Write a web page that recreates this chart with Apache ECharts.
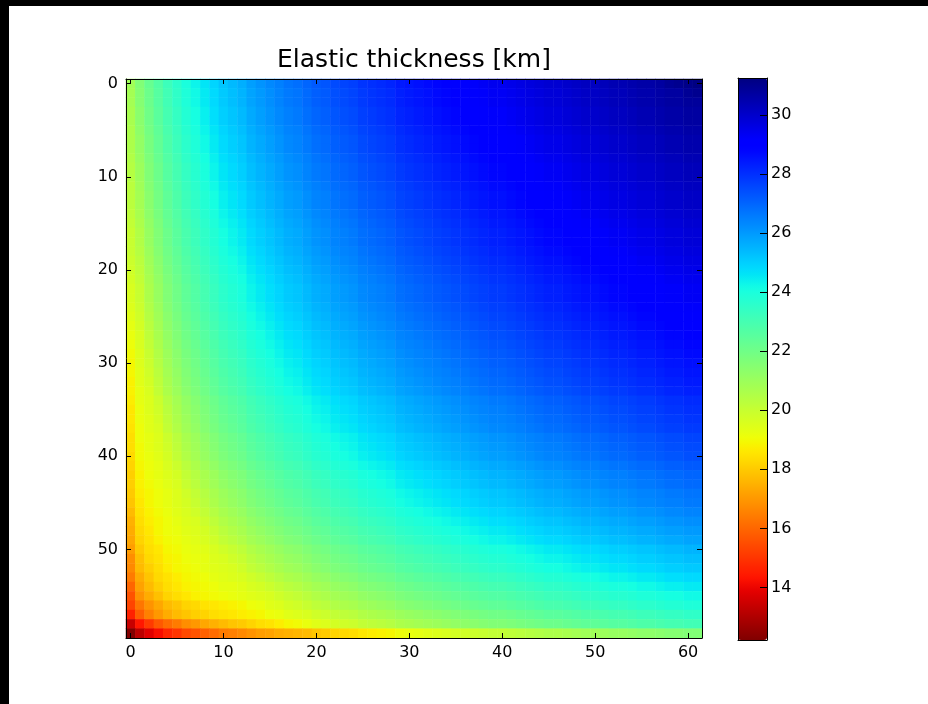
<!DOCTYPE html>
<html>
<head>
<meta charset="utf-8">
<script src="https://cdn.jsdelivr.net/npm/echarts@6/dist/echarts.min.js"></script>
<style>
html, body { margin: 0; padding: 0; background: #ffffff; }
#chart { width: 928px; height: 704px; }
</style>
</head>
<body>
<div id="chart"></div>
<script>
const titleText = 'Elastic thickness [km]';
const xCategories = [0,1,2,3,4,5,6,7,8,9,10,11,12,13,14,15,16,17,18,19,20,21,22,23,24,25,26,27,28,29,30,31,32,33,34,35,36,37,38,39,40,41,42,43,44,45,46,47,48,49,50,51,52,53,54,55,56,57,58,59,60,61];
const yCategories = [0,1,2,3,4,5,6,7,8,9,10,11,12,13,14,15,16,17,18,19,20,21,22,23,24,25,26,27,28,29,30,31,32,33,34,35,36,37,38,39,40,41,42,43,44,45,46,47,48,49,50,51,52,53,54,55,56,57,58,59];
const xTickLabels = [0, 10, 20, 30, 40, 50, 60];
const yTickLabels = [0, 10, 20, 30, 40, 50];
const colorbarTicks = [14, 16, 18, 20, 22, 24, 26, 28, 30];
const colorbarMin = 12.22;
const colorbarMax = 31.25;

// Elastic thickness [km]; one row per y index (0 at top), one value per x index.
const teRows = [
[20.9,21.6,22.2,22.7,23.2,23.6,24.0,24.3,24.6,24.9,25.2,25.4,25.6,25.9,26.1,26.3,26.5,26.7,26.8,27.0,27.2,27.3,27.5,27.6,27.7,27.9,28.0,28.1,28.2,28.4,28.5,28.6,28.7,28.8,28.9,29.0,29.1,29.2,29.3,29.4,29.4,29.5,29.6,29.7,29.8,29.9,29.9,30.0,30.1,30.2,30.2,30.3,30.4,30.4,30.5,30.6,30.6,30.7,30.9,31.0,31.1,31.2],
[20.8,21.5,22.1,22.6,23.1,23.5,23.9,24.2,24.5,24.8,25.1,25.3,25.5,25.8,26.0,26.2,26.4,26.6,26.7,26.9,27.1,27.2,27.4,27.5,27.6,27.8,27.9,28.0,28.1,28.3,28.4,28.5,28.6,28.7,28.8,28.9,29.0,29.1,29.2,29.3,29.3,29.4,29.5,29.6,29.7,29.8,29.8,29.9,30.0,30.1,30.1,30.2,30.3,30.3,30.4,30.5,30.5,30.6,30.7,30.7,30.9,31.0],
[20.8,21.5,22.1,22.6,23.1,23.5,23.9,24.2,24.5,24.8,25.1,25.3,25.5,25.8,26.0,26.2,26.4,26.6,26.7,26.9,27.1,27.2,27.4,27.5,27.6,27.8,27.9,28.0,28.1,28.3,28.4,28.5,28.6,28.7,28.8,28.9,29.0,29.1,29.2,29.3,29.3,29.4,29.5,29.6,29.7,29.8,29.8,29.9,30.0,30.1,30.1,30.2,30.3,30.3,30.4,30.5,30.5,30.6,30.7,30.7,30.8,30.8],
[20.7,21.4,22.0,22.5,23.0,23.4,23.8,24.1,24.4,24.7,25.0,25.2,25.4,25.7,25.9,26.1,26.3,26.5,26.6,26.8,27.0,27.1,27.3,27.4,27.5,27.7,27.8,27.9,28.0,28.2,28.3,28.4,28.5,28.6,28.7,28.8,28.9,29.0,29.1,29.2,29.2,29.3,29.4,29.5,29.6,29.7,29.7,29.8,29.9,30.0,30.0,30.1,30.2,30.2,30.3,30.4,30.4,30.5,30.6,30.6,30.7,30.7],
[20.7,21.4,22.0,22.5,23.0,23.4,23.8,24.1,24.4,24.7,25.0,25.2,25.4,25.7,25.9,26.1,26.3,26.5,26.6,26.8,27.0,27.1,27.3,27.4,27.5,27.7,27.8,27.9,28.0,28.2,28.3,28.4,28.5,28.6,28.7,28.8,28.9,29.0,29.1,29.2,29.2,29.3,29.4,29.5,29.6,29.7,29.7,29.8,29.9,30.0,30.0,30.1,30.2,30.2,30.3,30.4,30.4,30.5,30.6,30.6,30.7,30.7],
[20.6,21.3,21.9,22.4,22.9,23.3,23.7,24.0,24.3,24.6,24.9,25.1,25.3,25.6,25.8,26.0,26.2,26.4,26.5,26.7,26.9,27.0,27.2,27.3,27.4,27.6,27.7,27.8,27.9,28.1,28.2,28.3,28.4,28.5,28.6,28.7,28.8,28.9,29.0,29.1,29.1,29.2,29.3,29.4,29.5,29.6,29.6,29.7,29.8,29.9,29.9,30.0,30.1,30.1,30.2,30.3,30.3,30.4,30.5,30.5,30.6,30.6],
[20.6,21.2,21.8,22.3,22.8,23.2,23.6,23.9,24.2,24.5,24.8,25.0,25.2,25.5,25.7,25.9,26.1,26.3,26.4,26.6,26.8,26.9,27.1,27.2,27.3,27.5,27.6,27.7,27.8,28.0,28.1,28.2,28.3,28.4,28.5,28.6,28.7,28.8,28.9,29.0,29.0,29.1,29.2,29.3,29.4,29.5,29.5,29.6,29.7,29.8,29.8,29.9,30.0,30.0,30.1,30.2,30.2,30.3,30.4,30.4,30.5,30.5],
[20.6,21.2,21.8,22.3,22.8,23.2,23.6,23.9,24.2,24.5,24.8,25.0,25.2,25.5,25.7,25.9,26.1,26.3,26.4,26.6,26.8,26.9,27.1,27.2,27.3,27.5,27.6,27.7,27.8,28.0,28.1,28.2,28.3,28.4,28.5,28.6,28.7,28.8,28.9,29.0,29.0,29.1,29.2,29.3,29.4,29.5,29.5,29.6,29.7,29.8,29.8,29.9,30.0,30.0,30.1,30.2,30.2,30.3,30.4,30.4,30.5,30.5],
[20.5,21.1,21.7,22.2,22.7,23.1,23.5,23.8,24.1,24.4,24.7,24.9,25.1,25.4,25.6,25.8,26.0,26.2,26.3,26.5,26.7,26.8,27.0,27.1,27.2,27.4,27.5,27.6,27.7,27.9,28.0,28.1,28.2,28.3,28.4,28.5,28.6,28.7,28.8,28.9,28.9,29.0,29.1,29.2,29.3,29.4,29.4,29.5,29.6,29.7,29.7,29.8,29.9,29.9,30.0,30.1,30.1,30.2,30.3,30.3,30.4,30.4],
[20.4,21.0,21.6,22.1,22.6,23.0,23.4,23.7,24.0,24.3,24.6,24.8,25.0,25.3,25.5,25.7,25.9,26.1,26.2,26.4,26.6,26.7,26.9,27.0,27.1,27.3,27.4,27.5,27.6,27.8,27.9,28.0,28.1,28.2,28.3,28.4,28.5,28.6,28.7,28.8,28.8,28.9,29.0,29.1,29.2,29.3,29.3,29.4,29.5,29.6,29.6,29.7,29.8,29.8,29.9,30.0,30.0,30.1,30.2,30.2,30.3,30.3],
[20.4,21.0,21.6,22.1,22.6,23.0,23.4,23.7,24.0,24.3,24.6,24.8,25.0,25.3,25.5,25.7,25.9,26.1,26.2,26.4,26.6,26.7,26.9,27.0,27.1,27.3,27.4,27.5,27.6,27.8,27.9,28.0,28.1,28.2,28.3,28.4,28.5,28.6,28.7,28.8,28.8,28.9,29.0,29.1,29.2,29.3,29.3,29.4,29.5,29.6,29.6,29.7,29.8,29.8,29.9,30.0,30.0,30.1,30.2,30.2,30.3,30.3],
[20.3,20.9,21.5,22.0,22.5,22.9,23.3,23.6,23.9,24.2,24.5,24.7,24.9,25.2,25.4,25.6,25.8,26.0,26.1,26.3,26.5,26.6,26.8,26.9,27.0,27.2,27.3,27.4,27.5,27.7,27.8,27.9,28.0,28.1,28.2,28.3,28.4,28.5,28.6,28.7,28.7,28.8,28.9,29.0,29.1,29.2,29.2,29.3,29.4,29.5,29.5,29.6,29.7,29.7,29.8,29.9,29.9,30.0,30.1,30.1,30.2,30.2],
[20.3,20.8,21.4,21.9,22.4,22.8,23.2,23.5,23.8,24.1,24.4,24.6,24.8,25.1,25.3,25.5,25.7,25.9,26.0,26.2,26.4,26.5,26.7,26.8,26.9,27.1,27.2,27.3,27.4,27.6,27.7,27.8,27.9,28.0,28.1,28.2,28.3,28.4,28.5,28.6,28.6,28.7,28.8,28.9,29.0,29.1,29.1,29.2,29.3,29.4,29.4,29.5,29.6,29.6,29.7,29.8,29.8,29.9,30.0,30.0,30.1,30.1],
[20.3,20.8,21.4,21.9,22.4,22.8,23.2,23.5,23.8,24.1,24.4,24.6,24.8,25.1,25.3,25.5,25.7,25.9,26.0,26.2,26.4,26.5,26.7,26.8,26.9,27.1,27.2,27.3,27.4,27.6,27.7,27.8,27.9,28.0,28.1,28.2,28.3,28.4,28.5,28.6,28.6,28.7,28.8,28.9,29.0,29.1,29.1,29.2,29.3,29.4,29.4,29.5,29.6,29.6,29.7,29.8,29.8,29.9,30.0,30.0,30.1,30.1],
[20.2,20.7,21.3,21.8,22.3,22.7,23.1,23.4,23.7,24.0,24.3,24.5,24.7,25.0,25.2,25.4,25.6,25.8,25.9,26.1,26.3,26.4,26.6,26.7,26.8,27.0,27.1,27.2,27.3,27.5,27.6,27.7,27.8,27.9,28.0,28.1,28.2,28.3,28.4,28.5,28.5,28.6,28.7,28.8,28.9,29.0,29.0,29.1,29.2,29.3,29.3,29.4,29.5,29.5,29.6,29.7,29.7,29.8,29.9,29.9,30.0,30.0],
[20.1,20.6,21.2,21.7,22.2,22.6,23.0,23.3,23.6,23.9,24.2,24.4,24.6,24.9,25.1,25.3,25.5,25.7,25.8,26.0,26.2,26.3,26.5,26.6,26.7,26.9,27.0,27.1,27.2,27.4,27.5,27.6,27.7,27.8,27.9,28.0,28.1,28.2,28.3,28.4,28.4,28.5,28.6,28.7,28.8,28.9,28.9,29.0,29.1,29.2,29.2,29.3,29.4,29.4,29.5,29.6,29.6,29.7,29.8,29.8,29.9,29.9],
[20.0,20.5,21.1,21.6,22.1,22.5,22.9,23.2,23.5,23.8,24.1,24.3,24.5,24.8,25.0,25.2,25.4,25.6,25.7,25.9,26.1,26.2,26.4,26.5,26.6,26.8,26.9,27.0,27.1,27.3,27.4,27.5,27.6,27.7,27.8,27.9,28.0,28.1,28.2,28.3,28.3,28.4,28.5,28.6,28.7,28.8,28.8,28.9,29.0,29.1,29.1,29.2,29.3,29.3,29.4,29.5,29.5,29.6,29.7,29.7,29.8,29.8],
[20.0,20.5,21.1,21.6,22.1,22.5,22.9,23.2,23.5,23.8,24.1,24.3,24.5,24.8,25.0,25.2,25.4,25.6,25.7,25.9,26.1,26.2,26.4,26.5,26.6,26.8,26.9,27.0,27.1,27.3,27.4,27.5,27.6,27.7,27.8,27.9,28.0,28.1,28.2,28.3,28.3,28.4,28.5,28.6,28.7,28.8,28.8,28.9,29.0,29.1,29.1,29.2,29.3,29.3,29.4,29.5,29.5,29.6,29.7,29.7,29.8,29.8],
[20.0,20.4,21.0,21.5,22.0,22.4,22.8,23.1,23.4,23.7,24.0,24.2,24.4,24.7,24.9,25.1,25.3,25.5,25.6,25.8,26.0,26.1,26.3,26.4,26.5,26.7,26.8,26.9,27.0,27.2,27.3,27.4,27.5,27.6,27.7,27.8,27.9,28.0,28.1,28.2,28.2,28.3,28.4,28.5,28.6,28.7,28.7,28.8,28.9,29.0,29.0,29.1,29.2,29.2,29.3,29.4,29.4,29.5,29.6,29.6,29.7,29.7],
[19.9,20.3,20.9,21.4,21.9,22.3,22.7,23.0,23.3,23.6,23.9,24.1,24.3,24.6,24.8,25.0,25.2,25.4,25.5,25.7,25.9,26.0,26.2,26.3,26.4,26.6,26.7,26.8,26.9,27.1,27.2,27.3,27.4,27.5,27.6,27.7,27.8,27.9,28.0,28.1,28.1,28.2,28.3,28.4,28.5,28.6,28.6,28.7,28.8,28.9,28.9,29.0,29.1,29.1,29.2,29.3,29.3,29.4,29.5,29.5,29.6,29.6],
[19.8,20.2,20.8,21.3,21.8,22.2,22.6,22.9,23.2,23.5,23.8,24.0,24.2,24.5,24.7,24.9,25.1,25.3,25.4,25.6,25.8,25.9,26.1,26.2,26.3,26.5,26.6,26.7,26.8,27.0,27.1,27.2,27.3,27.4,27.5,27.6,27.7,27.8,27.9,28.0,28.0,28.1,28.2,28.3,28.4,28.5,28.5,28.6,28.7,28.8,28.8,28.9,29.0,29.0,29.1,29.2,29.2,29.3,29.4,29.4,29.5,29.5],
[19.7,20.1,20.7,21.2,21.7,22.1,22.5,22.8,23.1,23.4,23.7,23.9,24.1,24.4,24.6,24.8,25.0,25.2,25.3,25.5,25.7,25.8,26.0,26.1,26.2,26.4,26.5,26.6,26.7,26.9,27.0,27.1,27.2,27.3,27.4,27.5,27.6,27.7,27.8,27.9,27.9,28.0,28.1,28.2,28.3,28.4,28.4,28.5,28.6,28.7,28.7,28.8,28.9,28.9,29.0,29.1,29.1,29.2,29.3,29.3,29.4,29.4],
[19.6,20.0,20.6,21.1,21.6,22.0,22.4,22.7,23.0,23.3,23.6,23.8,24.0,24.3,24.5,24.7,24.9,25.1,25.2,25.4,25.6,25.7,25.9,26.0,26.1,26.3,26.4,26.5,26.6,26.8,26.9,27.0,27.1,27.2,27.3,27.4,27.5,27.6,27.7,27.8,27.8,27.9,28.0,28.1,28.2,28.3,28.3,28.4,28.5,28.6,28.6,28.7,28.8,28.8,28.9,29.0,29.0,29.1,29.2,29.2,29.3,29.3],
[19.6,20.0,20.6,21.1,21.6,22.0,22.4,22.7,23.0,23.3,23.6,23.8,24.0,24.3,24.5,24.7,24.9,25.1,25.2,25.4,25.6,25.7,25.9,26.0,26.1,26.3,26.4,26.5,26.6,26.8,26.9,27.0,27.1,27.2,27.3,27.4,27.5,27.6,27.7,27.8,27.8,27.9,28.0,28.1,28.2,28.3,28.3,28.4,28.5,28.6,28.6,28.7,28.8,28.8,28.9,29.0,29.0,29.1,29.2,29.2,29.3,29.3],
[19.5,19.9,20.5,21.0,21.5,21.9,22.3,22.6,22.9,23.2,23.5,23.7,23.9,24.2,24.4,24.6,24.8,25.0,25.1,25.3,25.5,25.6,25.8,25.9,26.0,26.2,26.3,26.4,26.5,26.7,26.8,26.9,27.0,27.1,27.2,27.3,27.4,27.5,27.6,27.7,27.7,27.8,27.9,28.0,28.1,28.2,28.2,28.3,28.4,28.5,28.5,28.6,28.7,28.7,28.8,28.9,28.9,29.0,29.1,29.1,29.2,29.2],
[19.4,19.8,20.4,20.9,21.4,21.8,22.2,22.5,22.8,23.1,23.4,23.6,23.8,24.1,24.3,24.5,24.7,24.9,25.0,25.2,25.4,25.5,25.7,25.8,25.9,26.1,26.2,26.3,26.4,26.6,26.7,26.8,26.9,27.0,27.1,27.2,27.3,27.4,27.5,27.6,27.6,27.7,27.8,27.9,28.0,28.1,28.1,28.2,28.3,28.4,28.4,28.5,28.6,28.6,28.7,28.8,28.8,28.9,29.0,29.0,29.1,29.1],
[19.3,19.7,20.3,20.8,21.3,21.7,22.1,22.4,22.7,23.0,23.3,23.5,23.7,24.0,24.2,24.4,24.6,24.8,24.9,25.1,25.3,25.4,25.6,25.7,25.8,26.0,26.1,26.2,26.3,26.5,26.6,26.7,26.8,26.9,27.0,27.1,27.2,27.3,27.4,27.5,27.5,27.6,27.7,27.8,27.9,28.0,28.0,28.1,28.2,28.3,28.3,28.4,28.5,28.5,28.6,28.7,28.7,28.8,28.9,28.9,29.0,29.0],
[19.2,19.6,20.2,20.7,21.2,21.6,22.0,22.3,22.6,22.9,23.2,23.4,23.6,23.9,24.1,24.3,24.5,24.7,24.8,25.0,25.2,25.3,25.5,25.6,25.7,25.9,26.0,26.1,26.2,26.4,26.5,26.6,26.7,26.8,26.9,27.0,27.1,27.2,27.3,27.4,27.4,27.5,27.6,27.7,27.8,27.9,27.9,28.0,28.1,28.2,28.2,28.3,28.4,28.4,28.5,28.6,28.6,28.7,28.8,28.8,28.9,28.9],
[19.1,19.6,20.1,20.6,21.1,21.5,21.9,22.2,22.5,22.8,23.1,23.3,23.5,23.8,24.0,24.2,24.4,24.6,24.7,24.9,25.1,25.2,25.4,25.5,25.6,25.8,25.9,26.0,26.1,26.3,26.4,26.5,26.6,26.7,26.8,26.9,27.0,27.1,27.2,27.3,27.3,27.4,27.5,27.6,27.7,27.8,27.8,27.9,28.0,28.1,28.1,28.2,28.3,28.3,28.4,28.5,28.5,28.6,28.7,28.7,28.8,28.8],
[19.0,19.5,20.0,20.5,21.0,21.4,21.8,22.1,22.4,22.7,23.0,23.2,23.4,23.7,23.9,24.1,24.3,24.5,24.6,24.8,25.0,25.1,25.3,25.4,25.5,25.7,25.8,25.9,26.0,26.2,26.3,26.4,26.5,26.6,26.7,26.8,26.9,27.0,27.1,27.2,27.2,27.3,27.4,27.5,27.6,27.7,27.7,27.8,27.9,28.0,28.0,28.1,28.2,28.2,28.3,28.4,28.4,28.5,28.6,28.6,28.7,28.7],
[18.9,19.5,19.9,20.4,20.9,21.3,21.7,22.0,22.3,22.6,22.9,23.1,23.3,23.6,23.8,24.0,24.2,24.4,24.5,24.7,24.9,25.0,25.2,25.3,25.4,25.6,25.7,25.8,25.9,26.1,26.2,26.3,26.4,26.5,26.6,26.7,26.8,26.9,27.0,27.1,27.1,27.2,27.3,27.4,27.5,27.6,27.6,27.7,27.8,27.9,27.9,28.0,28.1,28.1,28.2,28.3,28.3,28.4,28.5,28.5,28.6,28.6],
[18.9,19.4,19.8,20.3,20.8,21.2,21.6,21.9,22.2,22.5,22.8,23.0,23.2,23.5,23.7,23.9,24.1,24.3,24.4,24.6,24.8,24.9,25.1,25.2,25.3,25.5,25.6,25.7,25.8,26.0,26.1,26.2,26.3,26.4,26.5,26.6,26.7,26.8,26.9,27.0,27.0,27.1,27.2,27.3,27.4,27.5,27.5,27.6,27.7,27.8,27.8,27.9,28.0,28.0,28.1,28.2,28.2,28.3,28.4,28.4,28.5,28.5],
[18.8,19.4,19.7,20.2,20.7,21.1,21.5,21.8,22.1,22.4,22.7,22.9,23.1,23.4,23.6,23.8,24.0,24.2,24.3,24.5,24.7,24.8,25.0,25.1,25.2,25.4,25.5,25.6,25.7,25.9,26.0,26.1,26.2,26.3,26.4,26.5,26.6,26.7,26.8,26.9,26.9,27.0,27.1,27.2,27.3,27.4,27.4,27.5,27.6,27.7,27.7,27.8,27.9,27.9,28.0,28.1,28.1,28.2,28.3,28.3,28.4,28.4],
[18.8,19.3,19.6,20.1,20.6,21.0,21.4,21.7,22.0,22.3,22.6,22.8,23.0,23.3,23.5,23.7,23.9,24.1,24.2,24.4,24.6,24.7,24.9,25.0,25.1,25.3,25.4,25.5,25.6,25.8,25.9,26.0,26.1,26.2,26.3,26.4,26.5,26.6,26.7,26.8,26.8,26.9,27.0,27.1,27.2,27.3,27.3,27.4,27.5,27.6,27.6,27.7,27.8,27.8,27.9,28.0,28.0,28.1,28.2,28.2,28.3,28.3],
[18.7,19.3,19.5,19.9,20.4,20.8,21.2,21.5,21.8,22.1,22.4,22.6,22.8,23.1,23.3,23.5,23.7,23.9,24.0,24.2,24.4,24.5,24.7,24.8,24.9,25.1,25.2,25.3,25.4,25.6,25.7,25.8,25.9,26.0,26.1,26.2,26.3,26.4,26.5,26.6,26.6,26.7,26.8,26.9,27.0,27.1,27.1,27.2,27.3,27.4,27.4,27.5,27.6,27.6,27.7,27.8,27.8,27.9,28.0,28.0,28.1,28.1],
[18.6,19.2,19.5,19.8,20.3,20.7,21.1,21.4,21.7,22.0,22.3,22.5,22.7,23.0,23.2,23.4,23.6,23.8,23.9,24.1,24.3,24.4,24.6,24.7,24.8,25.0,25.1,25.2,25.3,25.5,25.6,25.7,25.8,25.9,26.0,26.1,26.2,26.3,26.4,26.5,26.5,26.6,26.7,26.8,26.9,27.0,27.0,27.1,27.2,27.3,27.3,27.4,27.5,27.5,27.6,27.7,27.7,27.8,27.9,27.9,28.0,28.0],
[18.6,19.2,19.4,19.7,20.2,20.6,21.0,21.3,21.6,21.9,22.2,22.4,22.6,22.9,23.1,23.3,23.5,23.7,23.8,24.0,24.2,24.3,24.5,24.6,24.7,24.9,25.0,25.1,25.2,25.4,25.5,25.6,25.7,25.8,25.9,26.0,26.1,26.2,26.3,26.4,26.4,26.5,26.6,26.7,26.8,26.9,26.9,27.0,27.1,27.2,27.2,27.3,27.4,27.4,27.5,27.6,27.6,27.7,27.8,27.8,27.9,27.9],
[18.5,19.1,19.4,19.6,20.1,20.5,20.9,21.2,21.5,21.8,22.1,22.3,22.5,22.8,23.0,23.2,23.4,23.6,23.7,23.9,24.1,24.2,24.4,24.5,24.6,24.8,24.9,25.0,25.1,25.3,25.4,25.5,25.6,25.7,25.8,25.9,26.0,26.1,26.2,26.3,26.3,26.4,26.5,26.6,26.7,26.8,26.8,26.9,27.0,27.1,27.1,27.2,27.3,27.3,27.4,27.5,27.5,27.6,27.7,27.7,27.8,27.8],
[18.4,19.1,19.3,19.5,19.9,20.3,20.7,21.0,21.3,21.6,21.9,22.1,22.3,22.6,22.8,23.0,23.2,23.4,23.5,23.7,23.9,24.0,24.2,24.3,24.4,24.6,24.7,24.8,24.9,25.1,25.2,25.3,25.4,25.5,25.6,25.7,25.8,25.9,26.0,26.1,26.1,26.2,26.3,26.4,26.5,26.6,26.6,26.7,26.8,26.9,26.9,27.0,27.1,27.1,27.2,27.3,27.3,27.4,27.5,27.5,27.6,27.6],
[18.4,19.0,19.3,19.5,19.8,20.2,20.6,20.9,21.2,21.5,21.8,22.0,22.2,22.5,22.7,22.9,23.1,23.3,23.4,23.6,23.8,23.9,24.1,24.2,24.3,24.5,24.6,24.7,24.8,25.0,25.1,25.2,25.3,25.4,25.5,25.6,25.7,25.8,25.9,26.0,26.0,26.1,26.2,26.3,26.4,26.5,26.5,26.6,26.7,26.8,26.8,26.9,27.0,27.0,27.1,27.2,27.2,27.3,27.4,27.4,27.5,27.5],
[18.3,19.0,19.2,19.4,19.7,20.1,20.5,20.8,21.1,21.4,21.7,21.9,22.1,22.4,22.6,22.8,23.0,23.2,23.3,23.5,23.7,23.8,24.0,24.1,24.2,24.4,24.5,24.6,24.7,24.9,25.0,25.1,25.2,25.3,25.4,25.5,25.6,25.7,25.8,25.9,25.9,26.0,26.1,26.2,26.3,26.4,26.4,26.5,26.6,26.7,26.7,26.8,26.9,26.9,27.0,27.1,27.1,27.2,27.3,27.3,27.4,27.4],
[18.2,18.9,19.1,19.3,19.6,19.9,20.3,20.6,20.9,21.2,21.5,21.7,21.9,22.2,22.4,22.6,22.8,23.0,23.1,23.3,23.5,23.6,23.8,23.9,24.0,24.2,24.3,24.4,24.5,24.7,24.8,24.9,25.0,25.1,25.2,25.3,25.4,25.5,25.6,25.7,25.7,25.8,25.9,26.0,26.1,26.2,26.2,26.3,26.4,26.5,26.5,26.6,26.7,26.7,26.8,26.9,26.9,27.0,27.1,27.1,27.2,27.2],
[18.1,18.8,19.1,19.3,19.5,19.7,20.1,20.4,20.7,21.0,21.3,21.5,21.7,22.0,22.2,22.4,22.6,22.8,22.9,23.1,23.3,23.4,23.6,23.7,23.8,24.0,24.1,24.2,24.3,24.5,24.6,24.7,24.8,24.9,25.0,25.1,25.2,25.3,25.4,25.5,25.5,25.6,25.7,25.8,25.9,26.0,26.0,26.1,26.2,26.3,26.3,26.4,26.5,26.5,26.6,26.7,26.7,26.8,26.9,26.9,27.0,27.0],
[18.1,18.8,19.0,19.2,19.4,19.6,20.0,20.3,20.6,20.9,21.2,21.4,21.6,21.9,22.1,22.3,22.5,22.7,22.8,23.0,23.2,23.3,23.5,23.6,23.7,23.9,24.0,24.1,24.2,24.4,24.5,24.6,24.7,24.8,24.9,25.0,25.1,25.2,25.3,25.4,25.4,25.5,25.6,25.7,25.8,25.9,25.9,26.0,26.1,26.2,26.2,26.3,26.4,26.4,26.5,26.6,26.6,26.7,26.8,26.8,26.9,26.9],
[18.0,18.7,18.9,19.1,19.3,19.5,19.8,20.1,20.4,20.7,21.0,21.2,21.4,21.7,21.9,22.1,22.3,22.5,22.6,22.8,23.0,23.1,23.3,23.4,23.5,23.7,23.8,23.9,24.0,24.2,24.3,24.4,24.5,24.6,24.7,24.8,24.9,25.0,25.1,25.2,25.2,25.3,25.4,25.5,25.6,25.7,25.7,25.8,25.9,26.0,26.0,26.1,26.2,26.2,26.3,26.4,26.4,26.5,26.6,26.6,26.7,26.7],
[17.9,18.6,18.9,19.1,19.3,19.5,19.7,20.0,20.3,20.6,20.9,21.1,21.3,21.6,21.8,22.0,22.2,22.4,22.5,22.7,22.9,23.0,23.2,23.3,23.4,23.6,23.7,23.8,23.9,24.1,24.2,24.3,24.4,24.5,24.6,24.7,24.8,24.9,25.0,25.1,25.1,25.2,25.3,25.4,25.5,25.6,25.6,25.7,25.8,25.9,25.9,26.0,26.1,26.1,26.2,26.3,26.3,26.4,26.5,26.5,26.6,26.6],
[17.7,18.5,18.8,19.0,19.2,19.4,19.6,19.8,20.1,20.4,20.7,20.9,21.1,21.4,21.6,21.8,22.0,22.2,22.3,22.5,22.7,22.8,23.0,23.1,23.2,23.4,23.5,23.6,23.7,23.9,24.0,24.1,24.2,24.3,24.4,24.5,24.6,24.7,24.8,24.9,24.9,25.0,25.1,25.2,25.3,25.4,25.4,25.5,25.6,25.7,25.7,25.8,25.9,25.9,26.0,26.1,26.1,26.2,26.3,26.3,26.4,26.4],
[17.5,18.4,18.7,18.9,19.1,19.3,19.5,19.6,19.9,20.2,20.5,20.7,20.9,21.2,21.4,21.6,21.8,22.0,22.1,22.3,22.5,22.6,22.8,22.9,23.0,23.2,23.3,23.4,23.5,23.7,23.8,23.9,24.0,24.1,24.2,24.3,24.4,24.5,24.6,24.7,24.7,24.8,24.9,25.0,25.1,25.2,25.2,25.3,25.4,25.5,25.5,25.6,25.7,25.7,25.8,25.9,25.9,26.0,26.1,26.1,26.2,26.2],
[17.4,18.3,18.6,18.9,19.1,19.2,19.4,19.5,19.7,20.0,20.3,20.5,20.7,21.0,21.2,21.4,21.6,21.8,21.9,22.1,22.3,22.4,22.6,22.7,22.8,23.0,23.1,23.2,23.3,23.5,23.6,23.7,23.8,23.9,24.0,24.1,24.2,24.3,24.4,24.5,24.5,24.6,24.7,24.8,24.9,25.0,25.0,25.1,25.2,25.3,25.3,25.4,25.5,25.5,25.6,25.7,25.7,25.8,25.9,25.9,26.0,26.0],
[17.3,18.2,18.5,18.8,19.0,19.1,19.3,19.4,19.6,19.8,20.1,20.3,20.5,20.8,21.0,21.2,21.4,21.6,21.7,21.9,22.1,22.2,22.4,22.5,22.6,22.8,22.9,23.0,23.1,23.3,23.4,23.5,23.6,23.7,23.8,23.9,24.0,24.1,24.2,24.3,24.3,24.4,24.5,24.6,24.7,24.8,24.8,24.9,25.0,25.1,25.1,25.2,25.3,25.3,25.4,25.5,25.5,25.6,25.7,25.7,25.8,25.8],
[17.1,18.0,18.4,18.6,18.9,19.0,19.2,19.3,19.4,19.6,19.8,20.0,20.2,20.5,20.7,20.9,21.1,21.3,21.4,21.6,21.8,21.9,22.1,22.2,22.3,22.5,22.6,22.7,22.8,23.0,23.1,23.2,23.3,23.4,23.5,23.6,23.7,23.8,23.9,24.0,24.0,24.1,24.2,24.3,24.4,24.5,24.5,24.6,24.7,24.8,24.8,24.9,25.0,25.0,25.1,25.2,25.2,25.3,25.4,25.4,25.5,25.5],
[16.8,17.8,18.3,18.5,18.8,18.9,19.1,19.2,19.3,19.5,19.6,19.8,20.0,20.3,20.5,20.7,20.9,21.1,21.2,21.4,21.6,21.7,21.9,22.0,22.1,22.3,22.4,22.5,22.6,22.8,22.9,23.0,23.1,23.2,23.3,23.4,23.5,23.6,23.7,23.8,23.8,23.9,24.0,24.1,24.2,24.3,24.3,24.4,24.5,24.6,24.6,24.7,24.8,24.8,24.9,25.0,25.0,25.1,25.2,25.2,25.3,25.3],
[16.7,17.7,18.1,18.4,18.7,18.9,19.0,19.1,19.3,19.4,19.5,19.6,19.8,20.1,20.3,20.5,20.7,20.9,21.0,21.2,21.4,21.5,21.7,21.8,21.9,22.1,22.2,22.3,22.4,22.6,22.7,22.8,22.9,23.0,23.1,23.2,23.3,23.4,23.5,23.6,23.6,23.7,23.8,23.9,24.0,24.1,24.1,24.2,24.3,24.4,24.4,24.5,24.6,24.6,24.7,24.8,24.8,24.9,25.0,25.0,25.1,25.1],
[16.4,17.4,17.9,18.3,18.5,18.7,18.9,19.0,19.1,19.3,19.4,19.5,19.6,19.8,20.0,20.2,20.4,20.6,20.7,20.9,21.1,21.2,21.4,21.5,21.6,21.8,21.9,22.0,22.1,22.3,22.4,22.5,22.6,22.7,22.8,22.9,23.0,23.1,23.2,23.3,23.3,23.4,23.5,23.6,23.7,23.8,23.8,23.9,24.0,24.1,24.1,24.2,24.3,24.3,24.4,24.5,24.5,24.6,24.7,24.7,24.8,24.8],
[16.0,17.2,17.7,18.1,18.4,18.6,18.8,18.9,19.0,19.1,19.3,19.3,19.4,19.6,19.7,19.9,20.1,20.3,20.4,20.6,20.8,20.9,21.1,21.2,21.3,21.5,21.6,21.7,21.8,22.0,22.1,22.2,22.3,22.4,22.5,22.6,22.7,22.8,22.9,23.0,23.0,23.1,23.2,23.3,23.4,23.5,23.5,23.6,23.7,23.8,23.8,23.9,24.0,24.0,24.1,24.2,24.2,24.3,24.4,24.4,24.5,24.5],
[15.6,16.9,17.4,17.8,18.2,18.4,18.6,18.8,18.9,19.0,19.1,19.2,19.3,19.4,19.5,19.6,19.8,20.0,20.1,20.3,20.5,20.6,20.8,20.9,21.0,21.2,21.3,21.4,21.5,21.7,21.8,21.9,22.0,22.1,22.2,22.3,22.4,22.5,22.6,22.7,22.7,22.8,22.9,23.0,23.1,23.2,23.2,23.3,23.4,23.5,23.5,23.6,23.7,23.7,23.8,23.9,23.9,24.0,24.1,24.1,24.2,24.2],
[15.3,16.3,16.9,17.3,17.7,17.9,18.2,18.3,18.5,18.6,18.7,18.8,18.9,19.1,19.2,19.4,19.5,19.7,19.8,20.0,20.2,20.3,20.5,20.6,20.7,20.9,21.0,21.1,21.2,21.4,21.5,21.6,21.7,21.8,21.9,22.0,22.1,22.2,22.3,22.4,22.4,22.5,22.6,22.7,22.8,22.9,22.9,23.0,23.1,23.2,23.2,23.3,23.4,23.4,23.5,23.6,23.6,23.7,23.8,23.8,23.9,23.9],
[14.6,15.8,16.5,17.0,17.4,17.7,17.9,18.1,18.2,18.4,18.5,18.6,18.7,18.8,18.9,19.1,19.2,19.4,19.5,19.6,19.8,19.9,20.1,20.2,20.3,20.5,20.6,20.7,20.8,21.0,21.1,21.2,21.3,21.4,21.5,21.6,21.7,21.8,21.9,22.0,22.0,22.1,22.2,22.3,22.4,22.5,22.5,22.6,22.7,22.8,22.8,22.9,23.0,23.0,23.1,23.2,23.2,23.3,23.4,23.4,23.5,23.5],
[13.4,14.4,15.1,15.7,16.1,16.4,16.8,17.0,17.3,17.5,17.7,17.9,18.0,18.2,18.4,18.5,18.7,18.9,19.0,19.2,19.4,19.5,19.7,19.8,19.9,20.1,20.2,20.3,20.4,20.6,20.7,20.8,20.9,21.0,21.1,21.2,21.3,21.4,21.5,21.6,21.6,21.7,21.8,21.9,22.0,22.1,22.1,22.2,22.3,22.4,22.4,22.5,22.6,22.6,22.7,22.8,22.8,22.9,23.0,23.0,23.1,23.1],
[12.25,13.2,13.8,14.2,14.7,15.0,15.4,15.6,15.9,16.1,16.4,16.5,16.7,16.9,17.1,17.2,17.4,17.5,17.6,17.7,17.9,18.0,18.2,18.3,18.4,18.6,18.7,18.8,18.9,19.1,19.2,19.3,19.4,19.5,19.6,19.7,19.8,19.9,20.0,20.1,20.1,20.2,20.3,20.4,20.5,20.6,20.6,20.7,20.8,20.9,20.9,21.0,21.1,21.1,21.2,21.3,21.3,21.4,21.5,21.5,21.6,21.6]
];

// Reversed "jet" colormap (styling only): low values dark red, high values navy.
const JET = {
  r: [[0, 0], [0.35, 0], [0.66, 1], [0.89, 1], [1, 0.5]],
  g: [[0, 0], [0.125, 0], [0.375, 1], [0.64, 1], [0.91, 0], [1, 0]],
  b: [[0, 0.5], [0.11, 1], [0.34, 1], [0.65, 0], [1, 0]]
};
function channel(seg, t) {
  for (let i = 1; i < seg.length; i++) {
    if (t <= seg[i][0]) {
      const a = seg[i - 1], b = seg[i];
      return a[1] + (b[1] - a[1]) * (t - a[0]) / (b[0] - a[0]);
    }
  }
  return seg[seg.length - 1][1];
}
function jetColor(t) {
  const c = ['r', 'g', 'b'].map(k => Math.round(255 * channel(JET[k], t)));
  return 'rgb(' + c.join(',') + ')';
}
const palette = [];
for (let i = 0; i <= 128; i++) palette.push(jetColor(1 - i / 128));

const cells = [];
teRows.forEach((row, yi) => row.forEach((v, xi) => cells.push([xi, yi, v])));

const FONT = 'DejaVu Sans';
const BLACK = '#000000';
const showX = (idx, val) => xTickLabels.indexOf(Number(val)) !== -1;
const showY = (idx, val) => yTickLabels.indexOf(Number(val)) !== -1;
const lineStyle = { color: BLACK, width: 1 };
const tickStyle = (fn) => ({ show: true, inside: true, length: 5, alignWithLabel: true, interval: fn, lineStyle: lineStyle });
const labelStyle = (fn, margin) => ({ show: true, interval: fn, margin: margin, fontSize: 16, fontFamily: FONT, color: BLACK });

const chart = echarts.init(document.getElementById('chart'), null, { renderer: 'canvas' });
chart.setOption({
  animation: false,
  backgroundColor: '#ffffff',
  title: {
    text: titleText, left: 414, top: 48, textAlign: 'center', padding: 0,
    textStyle: { fontFamily: FONT, fontSize: 25, fontWeight: 'normal', color: BLACK }
  },
  grid: [
    { left: 126, top: 79, width: 576, height: 559 },
    { left: 738, top: 78, width: 29, height: 562 }
  ],
  xAxis: [
    { gridIndex: 0, type: 'category', data: xCategories, position: 'bottom', z: 10,
      axisLine: { show: true, onZero: false, lineStyle: lineStyle },
      axisTick: tickStyle(showX), axisLabel: labelStyle(showX, 7), splitLine: { show: false } },
    { gridIndex: 0, type: 'category', data: xCategories, position: 'top', z: 10,
      axisLine: { show: true, onZero: false, lineStyle: lineStyle },
      axisTick: tickStyle(showX), axisLabel: { show: false }, splitLine: { show: false } },
    { gridIndex: 1, type: 'value', position: 'bottom', min: 0, max: 1, z: 10,
      axisLine: { show: true, onZero: false, lineStyle: lineStyle },
      axisTick: { show: false }, axisLabel: { show: false }, splitLine: { show: false } },
    { gridIndex: 1, type: 'value', position: 'top', min: 0, max: 1, z: 10,
      axisLine: { show: true, onZero: false, lineStyle: lineStyle },
      axisTick: { show: false }, axisLabel: { show: false }, splitLine: { show: false } }
  ],
  yAxis: [
    { gridIndex: 0, type: 'category', data: yCategories, inverse: true, position: 'left', z: 10,
      axisLine: { show: true, onZero: false, lineStyle: lineStyle },
      axisTick: tickStyle(showY), axisLabel: labelStyle(showY, 8), splitLine: { show: false } },
    { gridIndex: 0, type: 'category', data: yCategories, inverse: true, position: 'right', z: 10,
      axisLine: { show: true, onZero: false, lineStyle: lineStyle },
      axisTick: tickStyle(showY), axisLabel: { show: false }, splitLine: { show: false } },
    { gridIndex: 1, type: 'value', position: 'left', min: colorbarMin, max: colorbarMax, z: 10,
      axisLine: { show: true, onZero: false, lineStyle: lineStyle },
      axisTick: { show: false }, axisLabel: { show: false }, splitLine: { show: false } },
    { gridIndex: 1, type: 'value', position: 'right', min: colorbarMin, max: colorbarMax, z: 10,
      axisLine: { show: true, onZero: false, lineStyle: lineStyle },
      axisTick: { show: true, inside: true, length: 7, customValues: colorbarTicks, lineStyle: lineStyle },
      axisLabel: { show: true, customValues: colorbarTicks, margin: 4, fontSize: 16, fontFamily: FONT, color: BLACK },
      splitLine: { show: false } }
  ],
  visualMap: {
    type: 'continuous', seriesIndex: 0, min: colorbarMin, max: colorbarMax,
    calculable: false, hoverLink: false, orient: 'vertical',
    left: 738, top: 78, itemWidth: 29, itemHeight: 562, padding: 0,
    text: null, inRange: { color: palette }
  },
  series: [{
    type: 'heatmap', xAxisIndex: 0, yAxisIndex: 0, data: cells,
    progressive: 0, itemStyle: { borderWidth: 0 }, emphasis: { disabled: true }
  }],
  graphic: [
    { type: 'rect', left: 0, top: 0, z: 100, shape: { width: 9, height: 704 }, style: { fill: BLACK } },
    { type: 'rect', left: 0, top: 0, z: 100, shape: { width: 928, height: 6 }, style: { fill: BLACK } }
  ]
});
</script>
</body>
</html>
